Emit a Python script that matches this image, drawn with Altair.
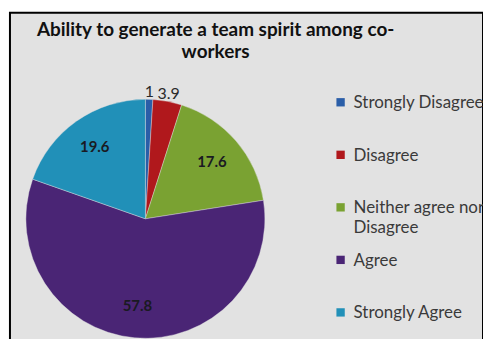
import altair as alt
import pandas as pd

categories = ["Strongly Disagree", "Disagree", "Neither agree nor Disagree", "Agree", "Strongly Agree"]
values = [1, 3.9, 17.6, 57.8, 19.6]
colors = ["#2a5ea8", "#b0181c", "#7aa232", "#4a2575", "#2190b8"]

df = pd.DataFrame({"category": categories, "value": values, "order": list(range(len(values)))})

CX, CY, R = 136, 207, 120

color_scale = alt.Scale(domain=categories, range=colors)

arcs = alt.Chart(df).mark_arc(radius=R, stroke="#e2e2e2", strokeWidth=0.4).encode(
    theta=alt.Theta("value:Q", stack=True),
    order=alt.Order("order:Q"),
    x=alt.value(CX),
    y=alt.value(CY),
    color=alt.Color("category:N", scale=color_scale, legend=None),
)

lab_base = alt.Chart(df).transform_window(
    cum="sum(value)", sort=[alt.SortField("order")]
).transform_calculate(
    mid="datum.cum - datum.value / 2",
    lr="datum.value < 5 ? 127 : 88",
).encode(
    theta=alt.Theta("mid:Q", stack=False),
    radius=alt.Radius("lr:Q", scale=None),
    x=alt.value(CX),
    y=alt.value(CY),
    text=alt.Text("value:Q"),
)

labels_in = lab_base.transform_filter("datum.value >= 5").mark_text(
    font="Lato", fontSize=15, fontWeight="bold", color="#1a1a22"
)
labels_out = lab_base.transform_filter("datum.value < 5").mark_text(
    font="Lato", fontSize=16, color="#2a2a2a"
)

leg_y = alt.Y("category:N", scale=alt.Scale(domain=categories, range=[90, 301], padding=0), axis=None)

leg_sym = alt.Chart(df).mark_square(size=70, opacity=1).encode(
    x=alt.value(332),
    y=leg_y,
    color=alt.Color("category:N", scale=color_scale, legend=None),
)

leg_txt = alt.Chart(df).transform_calculate(
    label="datum.category == 'Neither agree nor Disagree' ? ['Neither agree nor', 'Disagree'] : datum.category"
).mark_text(
    align="left", baseline="alphabetic", dy=6, font="Lato", fontSize=17,
    color="#3a3a3a", lineHeight=20,
).encode(
    x=alt.value(345),
    y=leg_y,
    text=alt.Text("label:N"),
)

chart = alt.layer(arcs, labels_in, labels_out, leg_sym, leg_txt).properties(
    width=475,
    height=329,
    padding={"left": 10, "top": 12, "right": 0, "bottom": 0},
    autosize=alt.AutoSizeParams(type="none"),
    background="white",
    title=alt.TitleParams(
        text=["Ability to generate a team spirit among co-", "workers"],
        font="Lato",
        fontSize=19,
        fontWeight="bold",
        color="#111111",
        anchor="middle",
        frame="group",
        dx=-31,
        baseline="top",
        offset=-50,
        lineHeight=23,
    ),
).configure_view(fill="#e2e2e2", stroke="#000000", strokeWidth=2)

chart.save("out.html", embed_options={"renderer": "svg", "actions": False})
